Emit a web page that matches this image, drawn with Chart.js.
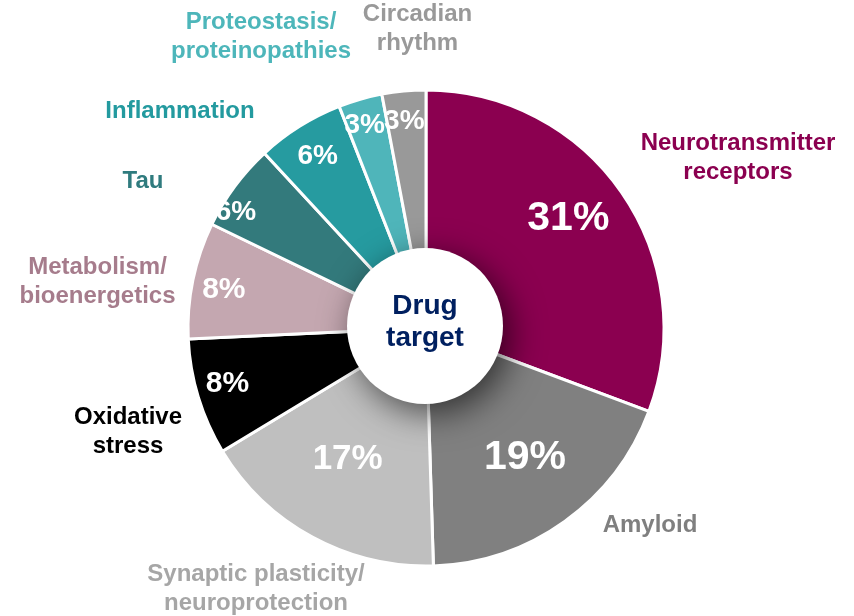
<!DOCTYPE html>
<html>
<head>
<meta charset="utf-8">
<style>
  html, body { margin: 0; padding: 0; background: #ffffff; }
  #wrap { width: 854px; height: 616px; position: relative; }
</style>
<script src="https://cdn.jsdelivr.net/npm/chart.js@4.4.1/dist/chart.umd.min.js"></script>
</head>
<body>
<div id="wrap"><canvas id="chart" width="854" height="616"></canvas></div>
<script>
// Drug-target categories, clockwise from 12 o'clock
const categories = [
  ['Neurotransmitter', 'receptors'],
  ['Amyloid'],
  ['Synaptic plasticity/', 'neuroprotection'],
  ['Oxidative', 'stress'],
  ['Metabolism/', 'bioenergetics'],
  ['Tau'],
  ['Inflammation'],
  ['Proteostasis/', 'proteinopathies'],
  ['Circadian', 'rhythm']
];
// Share of drug targets, percent
const shares = [31, 19, 17, 8, 8, 6, 6, 3, 3];
const centerTitle = ['Drug', 'target'];

// Slice fill colours and category label colours
const sliceColors = ['#8b0050', '#808080', '#bfbfbf', '#000000', '#c4a7b0', '#337a7c', '#269ba0', '#4fb5ba', '#999999'];
const labelColors = ['#8b0050', '#7f7f7f', '#a6a6a6', '#000000', '#a67c8c', '#2f7b7e', '#239a9f', '#4db6ba', '#999999'];

// Percentage label: distance from centre (px), angular nudge (deg), font size
const pctRadius = [180, 162, 152, 206, 206, 223, 204, 213, 209];
const pctNudge  = [-3, -2, 2.5, 1.5, -0.5, -5, 0, -0.7, -0.6];
const pctSize   = [41, 41, 35, 30, 30, 28, 28, 28, 28];
// Category label block centres, offset from the ring centre (px)
const catOffset = [
  [312, -170.5], [224, 197], [-170, 261], [-298, 104], [-328.5, -46],
  [-283, -147], [-246, -217], [-165, -291.5], [-8.5, -299]
];

const FONT = '"Liberation Sans", Arial, sans-serif';

const overlay = {
  id: 'overlay',
  afterDatasetsDraw(chart) {
    const ctx = chart.ctx;
    const arcs = chart.getDatasetMeta(0).data;
    const cx = arcs[0].x, cy = arcs[0].y;

    // white hub with soft drop shadow
    ctx.save();
    ctx.beginPath();
    ctx.arc(cx - 1, cy - 2, 78, 0, Math.PI * 2);
    ctx.fillStyle = '#ffffff';
    ctx.shadowColor = 'rgba(0,0,0,0.62)';
    ctx.shadowBlur = 34;
    ctx.shadowOffsetX = 7;
    ctx.shadowOffsetY = 9;
    ctx.fill();
    ctx.restore();

    ctx.save();
    ctx.textAlign = 'center';
    ctx.textBaseline = 'middle';

    // hub title
    ctx.fillStyle = '#002060';
    ctx.font = 'bold 28px ' + FONT;
    ctx.fillText(centerTitle[0], cx - 1, cy - 22);
    ctx.fillText(centerTitle[1], cx - 1, cy + 10);

    arcs.forEach((arc, i) => {
      const mid = (arc.startAngle + arc.endAngle) / 2 + pctNudge[i] * Math.PI / 180;
      // value label inside the slice
      ctx.fillStyle = '#ffffff';
      ctx.font = 'bold ' + pctSize[i] + 'px ' + FONT;
      const px = cx + Math.cos(mid) * pctRadius[i];
      const py = cy + Math.sin(mid) * pctRadius[i];
      ctx.fillText(shares[i] + '%', px, py + 1);

      // category label outside the ring
      ctx.fillStyle = labelColors[i];
      ctx.font = 'bold 24px ' + FONT;
      const lines = categories[i];
      const lh = 29;
      const top = cy + catOffset[i][1] - (lines.length - 1) * lh / 2;
      lines.forEach((t, k) => {
        ctx.fillText(t, cx + catOffset[i][0], top + k * lh);
      });
    });
    ctx.restore();
  }
};

new Chart(document.getElementById('chart'), {
  type: 'doughnut',
  data: {
    labels: categories.map(c => c.join(' ')),
    datasets: [{
      data: shares,
      backgroundColor: sliceColors,
      borderColor: '#ffffff',
      borderWidth: 3,
      hoverOffset: 0
    }]
  },
  options: {
    responsive: false,
    animation: false,
    radius: 238,
    cutout: '30%',
    layout: { padding: { left: 180, right: 182, top: 60, bottom: 20 } },
    plugins: {
      legend: { display: false },
      tooltip: { enabled: false }
    }
  },
  plugins: [overlay]
});
</script>
</body>
</html>
